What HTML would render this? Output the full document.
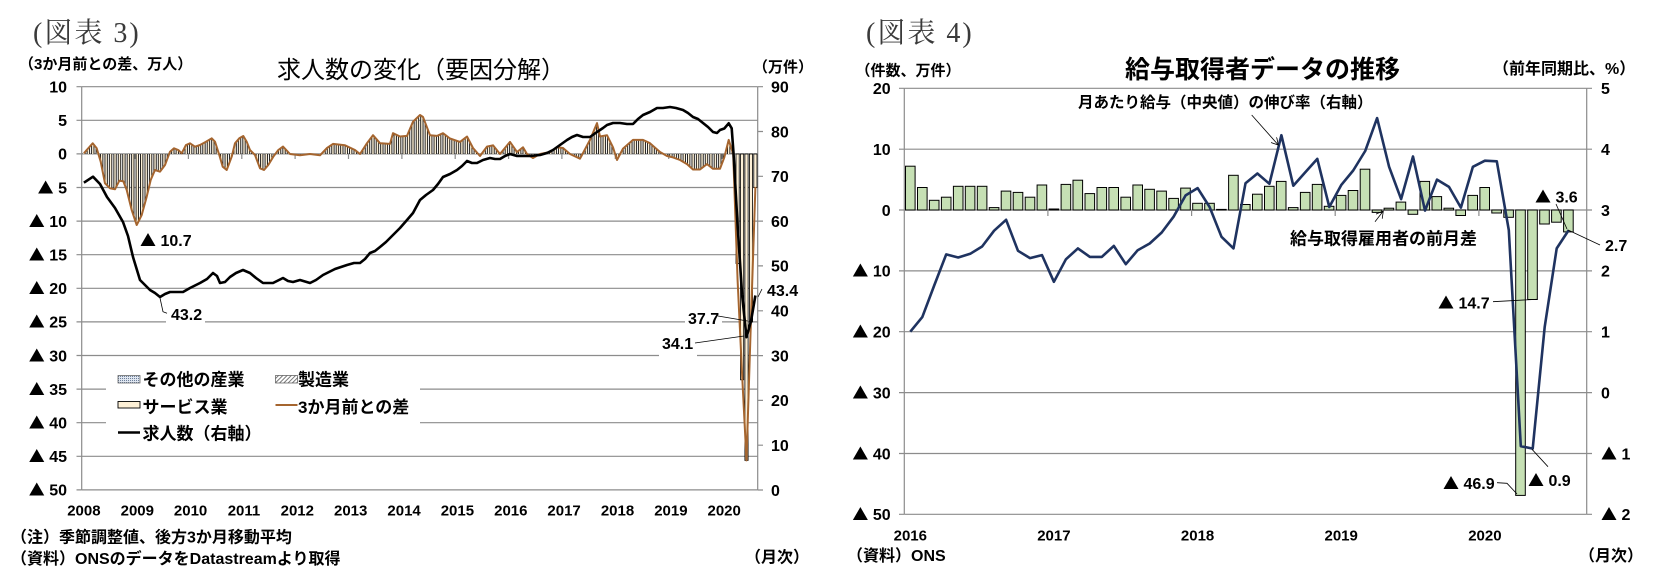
<!DOCTYPE html>
<html><head><meta charset="utf-8">
<style>
html,body{margin:0;padding:0;background:#fff}
svg{display:block}
.s{font-family:"Liberation Sans","Noto Sans CJK JP",sans-serif;fill:#000}
.b{font-weight:bold}
.t{font-family:"Noto Sans CJK JP",sans-serif;font-weight:normal}
.m{font-family:"Liberation Serif","Noto Serif CJK SC",serif;fill:#3a3a3a}
</style></head><body>
<svg width="1664" height="588" viewBox="0 0 1664 588" xmlns="http://www.w3.org/2000/svg">
<defs>
<pattern id="bars" patternUnits="userSpaceOnUse" x="81.7" y="0" width="4.447" height="20">
<rect x="0.6" y="0" width="3.2" height="20" fill="#fdf0d6"/>
<rect x="0.6" y="0" width="0.85" height="20" fill="#000"/>
<rect x="2.95" y="0" width="0.85" height="20" fill="#000"/>
</pattern>
<pattern id="dots" patternUnits="userSpaceOnUse" width="2" height="2">
<rect width="2" height="2" fill="#dfe6f0"/><rect width="1" height="1" fill="#6d7f9a"/>
</pattern>
<pattern id="hatch" patternUnits="userSpaceOnUse" width="3" height="3" patternTransform="rotate(45)">
<rect width="3" height="3" fill="#fff"/><rect width="1" height="3" fill="#777"/>
</pattern>
<marker id="arr" markerWidth="8" markerHeight="8" refX="7" refY="4" orient="auto" markerUnits="userSpaceOnUse">
<path d="M0,0 L7,4 L0,8" fill="none" stroke="#000" stroke-width="0.8"/>
</marker>
</defs>
<rect width="1664" height="588" fill="#fff"/>

<!-- ================= LEFT CHART ================= -->
<text class="m" x="33" y="42" font-size="28" letter-spacing="2">(図表 3)</text>
<text class="s b" x="19" y="69" font-size="15">（3か月前との差、万人）</text>
<text class="s" x="277" y="78" font-size="24">求人数の変化（要因分解）</text>
<text class="s b" x="753" y="72" font-size="15">（万件）</text>

<g stroke="#8c8c8c" stroke-width="1.2" fill="none">
<path d="M81.7,86.7H757.7M81.7,120.3H757.7M81.7,153.9H757.7M81.7,187.5H757.7M81.7,221.1H757.7M81.7,254.7H757.7M81.7,288.3H757.7M81.7,321.9H757.7M81.7,355.5H757.7M81.7,389.1H757.7M81.7,422.7H757.7M81.7,456.3H757.7M81.7,489.9H757.7"/>
<path d="M81.7,86.7V490M757.7,86.7V490"/>
<path d="M76.5,86.7H81.7M76.5,120.3H81.7M76.5,153.9H81.7M76.5,187.5H81.7M76.5,221.1H81.7M76.5,254.7H81.7M76.5,288.3H81.7M76.5,321.9H81.7M76.5,355.5H81.7M76.5,389.1H81.7M76.5,422.7H81.7M76.5,456.3H81.7M76.5,489.9H81.7"/>
<path d="M757.7,86.7H763M757.7,131.5H763M757.7,176.3H763M757.7,221.1H763M757.7,265.9H763M757.7,310.8H763M757.7,355.6H763M757.7,400.4H763M757.7,445.2H763M757.7,490H763"/>
<path d="M135.1,154V159M188.4,154V159M241.8,154V159M295.1,154V159M348.5,154V159M401.9,154V159M455.2,154V159M508.6,154V159M561.9,154V159M615.3,154V159M668.7,154V159M722,154V159"/>
</g>

<!-- legend background -->
<rect x="106" y="364" width="314" height="84" fill="#fff"/>
<!-- label backgrounds -->
<rect x="166" y="304" width="39" height="21" fill="#fff"/>
<rect x="685" y="308" width="37" height="20" fill="#fff"/>
<rect x="659" y="333" width="38" height="24" fill="#fff"/>

<!-- bars -->
<polygon fill="url(#bars)" points="81.7,154 83.9,153.3 86.7,150 92.7,143.3 96.7,148.3 100.7,161.7 105,183.3 110,188.3 115,189.3 119.3,180.7 123.3,181.3 126.7,190 131.7,210 136.7,225 141.7,215 146.7,196.7 150.7,180 155,170 160,171.7 165,165 170,151.7 174,148.3 178.3,150 181.7,153.3 186,145 190,143.3 195,146.7 200,145 206,141.7 211.7,138.3 215,141.7 219.3,155 222.7,166.7 226.7,170 231.7,156.7 235,143.3 239.3,138.3 243.3,136 246.7,141.7 250,150 255,155 260,168.3 264,170 268.3,165 273.3,156.7 278.3,150 283,146.6 290,154 300,155.3 310,154 320,155.3 327,148 333,143.9 345,145.3 355,150 360,154 367,143.2 373,135.2 380,143.2 390,143.9 393,133.2 400,136.5 407,135.9 413,121.7 420,115 423,117 430,135.2 437,135.9 443,133.2 450,138.5 460,141.9 467,136.5 473,148 480,156 487,146.6 493,145.3 500,154 510,141.9 517,152 523,147.3 527,154 533,158 540,154 550,152 557,147.3 563,148 570,154 580,158.7 590,139.9 597,123.1 600,136.5 607,135.2 613,147.3 617,160 623,148.6 633,139.9 643,139.9 650,143.2 660,152 667,156 673,157.4 680,160 687,164.1 693,169.5 700,169.5 707,164.1 713,168.8 720,168.8 724.3,157.4 728.7,139.9 733.2,154"/>
<g fill="#fdf0d6" stroke="#000" stroke-width="0.8">
<rect x="736" y="154" width="3.2" height="109.5"/>
<rect x="740.5" y="154" width="3.2" height="225.8"/>
<rect x="744.9" y="154" width="3.2" height="306.4"/>
<rect x="749.4" y="154" width="3.2" height="168"/>
<rect x="753.8" y="154" width="3.2" height="33.6"/>
</g>

<!-- brown line -->
<polyline fill="none" stroke="#a5652f" stroke-width="2" stroke-linejoin="round" points="83.9,153.3 86.7,150 92.7,143.3 96.7,148.3 100.7,161.7 105,183.3 110,188.3 115,189.3 119.3,180.7 123.3,181.3 126.7,190 131.7,210 136.7,225 141.7,215 146.7,196.7 150.7,180 155,170 160,171.7 165,165 170,151.7 174,148.3 178.3,150 181.7,153.3 186,145 190,143.3 195,146.7 200,145 206,141.7 211.7,138.3 215,141.7 219.3,155 222.7,166.7 226.7,170 231.7,156.7 235,143.3 239.3,138.3 243.3,136 246.7,141.7 250,150 255,155 260,168.3 264,170 268.3,165 273.3,156.7 278.3,150 283,146.6 290,154 300,155.3 310,154 320,155.3 327,148 333,143.9 345,145.3 355,150 360,154 367,143.2 373,135.2 380,143.2 390,143.9 393,133.2 400,136.5 407,135.9 413,121.7 420,115 423,117 430,135.2 437,135.9 443,133.2 450,138.5 460,141.9 467,136.5 473,148 480,156 487,146.6 493,145.3 500,154 510,141.9 517,152 523,147.3 527,154 533,158 540,154 550,152 557,147.3 563,148 570,154 580,158.7 590,139.9 597,123.1 600,136.5 607,135.2 613,147.3 617,160 623,148.6 633,139.9 643,139.9 650,143.2 660,152 667,156 673,157.4 680,160 687,164.1 693,169.5 700,169.5 707,164.1 713,168.8 720,168.8 724.3,157.4 728.7,139.9 733.2,154 737.6,280.3 742.1,374.4 746.5,460.4 751,318.6 755.4,186.9"/>

<!-- black line -->
<polyline fill="none" stroke="#000" stroke-width="2.6" stroke-linejoin="round" points="83.9,182.7 93,176.7 100,184 107,197 115,208 123,222 128,236 133,257 140,280 150,290 155,293 160,297 165,294 170,292 176,292 183,292 190,288 200,283 207,279 213,273 217,276 220,283 225,282 230,277 236,273 243,270 250,273 256,278 263,283 273,283 283,278 288,281 293,282 300,280 310,283 316,280 323,275 335,269 347,265 354,263 360,263 365,259 370,253 375,251 380,247 386,242 393,235 400,228 407,220 413,213 420,200 426,195 433,190 438,184 443,177 450,174 457,170 462,166 467,161 472,163 477,163 483,160 490,158 495,159 500,159 505,156 510,154 517,156 523,156 530,156 540,155 547,153 553,150 560,145 567,140 572,137 577,135 583,137 590,137 597,132 603,128 607,125 613,123 620,123 627,124 633,124 638,119 643,115 650,112 657,108 663,108 670,107 676,108 683,110 688,113 693,117 698,119 703,123 708,127 713,132 717,133 720,130 724.3,128.5 728.7,123.3 731.7,128.3 733.5,153 737.6,225.6 742.1,295 746.5,337.2 751,321.1 755.4,295.5"/>

<!-- left leader lines -->
<g stroke="#000" stroke-width="0.8" fill="none">
<path d="M160,298 L163,311.7 L167,313.3"/>
<path d="M718,316 L747.5,321"/>
<path d="M695,343 L744,336"/>
<path d="M758,297 L762,289"/>
</g>

<!-- left axis labels -->
<g class="s b" font-size="16" text-anchor="end">
<text x="67" y="92.5">10</text>
<text x="67" y="126.1">5</text>
<text x="67" y="159.7">0</text>
<text x="67" y="193.3"><tspan class="t">▲</tspan> 5</text>
<text x="67" y="226.9"><tspan class="t">▲</tspan> 10</text>
<text x="67" y="260.5"><tspan class="t">▲</tspan> 15</text>
<text x="67" y="294.1"><tspan class="t">▲</tspan> 20</text>
<text x="67" y="327.7"><tspan class="t">▲</tspan> 25</text>
<text x="67" y="361.3"><tspan class="t">▲</tspan> 30</text>
<text x="67" y="394.9"><tspan class="t">▲</tspan> 35</text>
<text x="67" y="428.5"><tspan class="t">▲</tspan> 40</text>
<text x="67" y="462.1"><tspan class="t">▲</tspan> 45</text>
<text x="67" y="495.7"><tspan class="t">▲</tspan> 50</text>
</g>
<g class="s b" font-size="16">
<text x="771" y="92.5">90</text>
<text x="771" y="137.3">80</text>
<text x="771" y="182.1">70</text>
<text x="771" y="226.9">60</text>
<text x="771" y="271.7">50</text>
<text x="771" y="316.6">40</text>
<text x="771" y="361.4">30</text>
<text x="771" y="406.2">20</text>
<text x="771" y="451">10</text>
<text x="771" y="495.8">0</text>
</g>
<g class="s b" font-size="15" text-anchor="middle">
<text x="83.9" y="515.5">2008</text>
<text x="137.3" y="515.5">2009</text>
<text x="190.6" y="515.5">2010</text>
<text x="244" y="515.5">2011</text>
<text x="297.3" y="515.5">2012</text>
<text x="350.7" y="515.5">2013</text>
<text x="404.1" y="515.5">2014</text>
<text x="457.4" y="515.5">2015</text>
<text x="510.8" y="515.5">2016</text>
<text x="564.1" y="515.5">2017</text>
<text x="617.5" y="515.5">2018</text>
<text x="670.9" y="515.5">2019</text>
<text x="724.2" y="515.5">2020</text>
</g>

<!-- annotations -->
<g class="s b" font-size="16">
<text x="140" y="245.8"><tspan class="t">▲</tspan> 10.7</text>
<text x="171" y="319.8">43.2</text>
<text x="688" y="324">37.7</text>
<text x="662" y="349">34.1</text>
<text x="767" y="295.8">43.4</text>
</g>

<!-- legend -->
<rect x="118" y="375.5" width="22" height="7.5" fill="url(#dots)" stroke="#555" stroke-width="0.7"/>
<rect x="275.5" y="375.5" width="22" height="7.5" fill="url(#hatch)" stroke="#555" stroke-width="0.7"/>
<rect x="118" y="401.5" width="22" height="6.5" fill="#fdf0d6" stroke="#000" stroke-width="0.9"/>
<path d="M275.5,405H297.5" stroke="#a5652f" stroke-width="2"/>
<path d="M118,432.5H140" stroke="#000" stroke-width="2.6"/>
<g class="s b" font-size="17">
<text x="142.5" y="385.5">その他の産業</text>
<text x="298" y="385.5">製造業</text>
<text x="142.5" y="412.9">サービス業</text>
<text x="298" y="412.9">3か月前との差</text>
<text x="142.5" y="439.5">求人数（右軸）</text>
</g>

<g class="s b" font-size="16">
<text x="11" y="542.5">（注）季節調整値、後方3か月移動平均</text>
<text x="11" y="564">（資料）ONSのデータをDatastreamより取得</text>
<text x="745" y="562.5">（月次）</text>
</g>

<!-- ================= RIGHT CHART ================= -->
<text class="m" x="866" y="42" font-size="28" letter-spacing="2">(図表 4)</text>
<text class="s b" x="855.5" y="75.5" font-size="15">（件数、万件）</text>
<text class="s b" x="1125" y="78" font-size="25">給与取得者データの推移</text>
<text class="s b" x="1493" y="74" font-size="16">（前年同期比、%）</text>

<g stroke="#8c8c8c" stroke-width="1.2" fill="none">
<path d="M904.3,88.3H1586.7M904.3,149.2H1586.7M904.3,210H1586.7M904.3,270.9H1586.7M904.3,331.7H1586.7M904.3,392.6H1586.7M904.3,453.5H1586.7M904.3,514.3H1586.7"/>
<path d="M904.3,88.3V514.3M1586.7,88.3V514.3"/>
<path d="M899,88.3H904.3M899,149.2H904.3M899,210H904.3M899,270.9H904.3M899,331.7H904.3M899,392.6H904.3M899,453.5H904.3M899,514.3H904.3"/>
<path d="M1586.7,88.3H1592M1586.7,149.2H1592M1586.7,210H1592M1586.7,270.9H1592M1586.7,331.7H1592M1586.7,392.6H1592M1586.7,453.5H1592M1586.7,514.3H1592"/>
<path d="M1047.9,210V216M1191.6,210V216M1335.2,210V216M1478.9,210V216"/>
</g>

<g fill="#c6e0b4" stroke="#000" stroke-width="1">
<rect x="905.5" y="166.2" width="9.6" height="43.8"/>
<rect x="917.5" y="187.5" width="9.6" height="22.5"/>
<rect x="929.4" y="200.3" width="9.6" height="9.7"/>
<rect x="941.4" y="197.2" width="9.6" height="12.8"/>
<rect x="953.4" y="186.3" width="9.6" height="23.7"/>
<rect x="965.3" y="186.3" width="9.6" height="23.7"/>
<rect x="977.3" y="186.3" width="9.6" height="23.7"/>
<rect x="989.3" y="207.6" width="9.6" height="2.4"/>
<rect x="1001.2" y="191.1" width="9.6" height="18.9"/>
<rect x="1013.2" y="192.4" width="9.6" height="17.6"/>
<rect x="1025.2" y="197.2" width="9.6" height="12.8"/>
<rect x="1037.1" y="185" width="9.6" height="25"/>
<rect x="1049.1" y="209" width="9.6" height="1"/>
<rect x="1061.1" y="184.4" width="9.6" height="25.6"/>
<rect x="1073" y="180.2" width="9.6" height="29.8"/>
<rect x="1085" y="193.6" width="9.6" height="16.4"/>
<rect x="1097" y="187.5" width="9.6" height="22.5"/>
<rect x="1108.9" y="187.5" width="9.6" height="22.5"/>
<rect x="1120.9" y="197.2" width="9.6" height="12.8"/>
<rect x="1132.9" y="185" width="9.6" height="25"/>
<rect x="1144.8" y="189.3" width="9.6" height="20.7"/>
<rect x="1156.8" y="191.1" width="9.6" height="18.9"/>
<rect x="1168.8" y="198.4" width="9.6" height="11.6"/>
<rect x="1180.7" y="188.1" width="9.6" height="21.9"/>
<rect x="1192.7" y="203.3" width="9.6" height="6.7"/>
<rect x="1204.7" y="203.3" width="9.6" height="6.7"/>
<rect x="1216.6" y="209.4" width="9.6" height="0.6"/>
<rect x="1228.6" y="175.3" width="9.6" height="34.7"/>
<rect x="1240.5" y="204.5" width="9.6" height="5.5"/>
<rect x="1252.5" y="194.2" width="9.6" height="15.8"/>
<rect x="1264.5" y="186.3" width="9.6" height="23.7"/>
<rect x="1276.4" y="181.4" width="9.6" height="28.6"/>
<rect x="1288.4" y="207.6" width="9.6" height="2.4"/>
<rect x="1300.4" y="192.4" width="9.6" height="17.6"/>
<rect x="1312.3" y="184.4" width="9.6" height="25.6"/>
<rect x="1324.3" y="206.3" width="9.6" height="3.7"/>
<rect x="1336.3" y="195.4" width="9.6" height="14.6"/>
<rect x="1348.2" y="190.5" width="9.6" height="19.5"/>
<rect x="1360.2" y="169.2" width="9.6" height="40.8"/>
<rect x="1372.2" y="210" width="9.6" height="2.4"/>
<rect x="1384.1" y="208.2" width="9.6" height="1.8"/>
<rect x="1396.1" y="202.1" width="9.6" height="7.9"/>
<rect x="1408.1" y="210" width="9.6" height="4.3"/>
<rect x="1420" y="181.4" width="9.6" height="28.6"/>
<rect x="1432" y="196.6" width="9.6" height="13.4"/>
<rect x="1444" y="208.2" width="9.6" height="1.8"/>
<rect x="1455.9" y="210" width="9.6" height="5.5"/>
<rect x="1467.9" y="195.4" width="9.6" height="14.6"/>
<rect x="1479.9" y="187.5" width="9.6" height="22.5"/>
<rect x="1491.8" y="210" width="9.6" height="3"/>
<rect x="1503.8" y="210" width="9.6" height="7.3"/>
<rect x="1515.7" y="210" width="9.6" height="285.4"/>
<rect x="1527.7" y="210" width="9.6" height="89.5"/>
<rect x="1539.7" y="210" width="9.6" height="14"/>
<rect x="1551.6" y="210" width="9.6" height="12.2"/>
<rect x="1563.6" y="210" width="9.6" height="21.9"/>
</g>

<polyline fill="none" stroke="#1f3360" stroke-width="2.6" stroke-linejoin="round" points="910.3,331.7 922.3,317.1 934.2,285.5 946.2,254.4 958.2,257.5 970.2,253.8 982.1,246.5 994.1,230.7 1006.1,219.8 1018,250.8 1030,258.1 1042,255.1 1053.9,281.8 1065.9,259.3 1077.9,248.4 1089.9,256.9 1101.8,256.9 1113.8,245.9 1125.8,264.2 1137.7,250.2 1149.7,243.5 1161.7,232.5 1173.6,216.7 1185.6,195.4 1197.6,188.1 1209.6,207 1221.5,236.8 1233.5,248.4 1245.5,183.3 1257.4,173.5 1269.4,183.8 1281.4,135.2 1293.3,185.7 1305.3,172.3 1317.3,158.9 1329.3,207 1341.2,185.1 1353.2,170.5 1365.2,151 1377.1,118.1 1389.1,166.8 1401.1,199.1 1413,156.5 1425,210.6 1437,179.6 1449,186.9 1460.9,207.6 1472.9,166.8 1484.9,160.7 1496.8,161.3 1508.8,230.1 1520.8,446.2 1532.7,448.6 1544.7,326.9 1556.7,248.4 1568.7,230.1"/>

<!-- right leader lines -->
<g stroke="#000" stroke-width="0.8" fill="none">
<path d="M1251.7,115 L1278.3,145" marker-end="url(#arr)"/>
<path d="M1375,221.7 L1383.3,211" marker-end="url(#arr)"/>
<path d="M1556,204 L1567,229"/>
<path d="M1568,230 L1600,245"/>
<path d="M1493,301.7 L1537,299.3"/>
<path d="M1497,482.7 L1507,483.3 L1517,494"/>
<path d="M1532,449.3 L1548,466.7"/>
</g>

<g class="s b" font-size="16" text-anchor="end">
<text x="890.7" y="94.1">20</text>
<text x="890.7" y="155">10</text>
<text x="890.7" y="215.8">0</text>
<text x="890.7" y="276.7"><tspan class="t">▲</tspan> 10</text>
<text x="890.7" y="337.5"><tspan class="t">▲</tspan> 20</text>
<text x="890.7" y="398.4"><tspan class="t">▲</tspan> 30</text>
<text x="890.7" y="459.3"><tspan class="t">▲</tspan> 40</text>
<text x="890.7" y="520.1"><tspan class="t">▲</tspan> 50</text>
</g>
<g class="s b" font-size="16">
<text x="1601" y="94.1">5</text>
<text x="1601" y="155">4</text>
<text x="1601" y="215.8">3</text>
<text x="1601" y="276.7">2</text>
<text x="1601" y="337.5">1</text>
<text x="1601" y="398.4">0</text>
<text x="1601" y="459.3"><tspan class="t">▲</tspan> 1</text>
<text x="1601" y="520.1"><tspan class="t">▲</tspan> 2</text>
</g>
<g class="s b" font-size="15" text-anchor="middle">
<text x="910.3" y="540.5">2016</text>
<text x="1053.9" y="540.5">2017</text>
<text x="1197.6" y="540.5">2018</text>
<text x="1341.2" y="540.5">2019</text>
<text x="1484.9" y="540.5">2020</text>
</g>

<g class="s b">
<text x="1078" y="107.4" font-size="15.5">月あたり給与（中央値）の伸び率（右軸）</text>
<text x="1290" y="244.5" font-size="17">給与取得雇用者の前月差</text>
<text x="1535" y="202.5" font-size="16"><tspan class="t">▲</tspan> 3.6</text>
<text x="1605" y="250.8" font-size="16">2.7</text>
<text x="1438" y="308.5" font-size="16"><tspan class="t">▲</tspan> 14.7</text>
<text x="1443" y="489" font-size="16"><tspan class="t">▲</tspan> 46.9</text>
<text x="1528" y="485.8" font-size="16"><tspan class="t">▲</tspan> 0.9</text>
<text x="847" y="561" font-size="16">（資料）ONS</text>
<text x="1579" y="561" font-size="16">（月次）</text>
</g>
</svg>
</body></html>
